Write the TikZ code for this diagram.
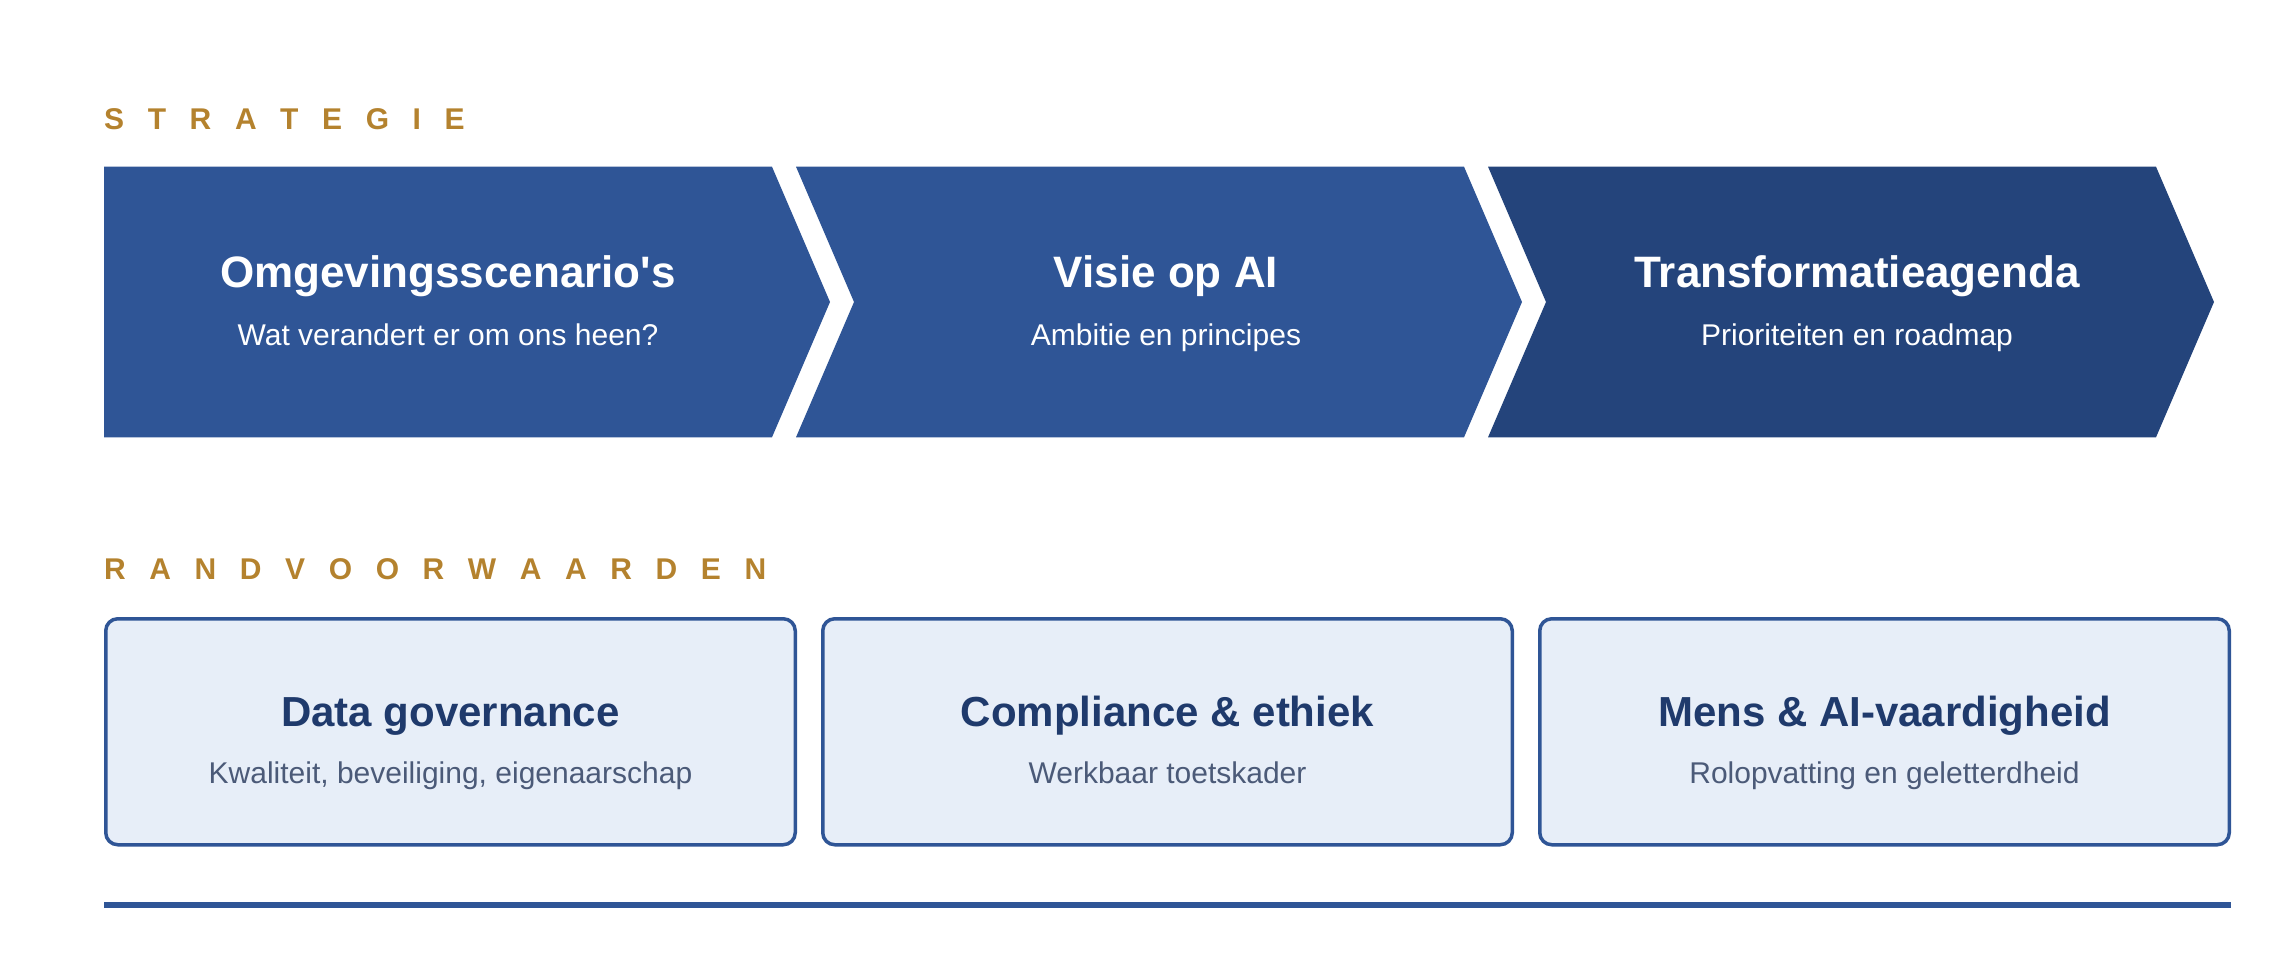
\documentclass[tikz,border=0pt]{standalone}
\usepackage{fontspec}
\setmainfont{Liberation Sans}
\definecolor{gold}{HTML}{B4822E}
\definecolor{chevA}{HTML}{2F5596}
\definecolor{chevB}{HTML}{24447B}
\definecolor{boxfill}{HTML}{E7EEF8}
\definecolor{boxline}{HTML}{2F5596}
\definecolor{navy}{HTML}{1F3A6C}
\definecolor{subgrey}{HTML}{4B5A78}
\newcommand\trk{\kern 23.6pt}
\begin{document}
\begin{tikzpicture}[x=1pt,y=-1pt,
  section/.style={anchor=base west, inner sep=0pt, text=gold, font=\bfseries\fontsize{30}{36}\selectfont},
  chevtitle/.style={anchor=base, inner sep=0pt, text=white, font=\bfseries\fontsize{44}{52}\selectfont},
  chevsub/.style={anchor=base, inner sep=0pt, text=white, font=\fontsize{30}{36}\selectfont},
  cardbox/.style={draw=boxline, fill=boxfill, line width=3.5pt, rounded corners=12pt,
    minimum width=689.5pt, minimum height=226pt, inner sep=0pt},
  cardtitle/.style={anchor=base, inner sep=0pt, text=navy, font=\bfseries\fontsize{42}{50}\selectfont},
  cardsub/.style={anchor=base, inner sep=0pt, text=subgrey, font=\fontsize{30}{36}\selectfont}]
\useasboundingbox (0,0) rectangle (2291,958);

% section labels
\node[section] (lblS) at (104,129) {S\trk T\trk R\trk A\trk T\trk E\trk G\trk I\trk E};
\node[section] (lblR) at (104,579) {R\trk A\trk N\trk D\trk V\trk O\trk O\trk R\trk W\trk A\trk A\trk R\trk D\trk E\trk N};

% chevrons
\fill[chevA] (104,166.7) -- (772,166.7) -- (830,302) -- (772,437.3) -- (104,437.3) -- cycle;
\fill[chevA] (796,166.7) -- (1464,166.7) -- (1522,302) -- (1464,437.3) -- (796,437.3) -- (854,302) -- cycle;
\fill[chevB] (1488,166.7) -- (2156,166.7) -- (2214,302) -- (2156,437.3) -- (1488,437.3) -- (1546,302) -- cycle;

\node[chevtitle] (c1t) at (448,287) {Omgevingsscenario\textquotesingle s};
\node[chevsub] (c1s) at (448,345) {Wat verandert er om ons heen?};
\node[chevtitle] (c2t) at (1166,287) {Visie op AI};
\node[chevsub] (c2s) at (1166,345) {Ambitie en principes};
\node[chevtitle] (c3t) at (1857,287) {Transformatieagenda};
\node[chevsub] (c3s) at (1857,345) {Prioriteiten en roadmap};

% cards
\node[cardbox] (b1) at (450.5,731.75) {};
\node[cardbox] (b2) at (1167.5,731.75) {};
\node[cardbox] (b3) at (1884.5,731.75) {};

\node[cardtitle] (b1t) at (450.5,726) {Data governance};
\node[cardsub] (b1s) at (450.5,783) {Kwaliteit, beveiliging, eigenaarschap};
\node[cardtitle] (b2t) at (1167.5,726) {Compliance \& ethiek};
\node[cardsub] (b2s) at (1167.5,783) {Werkbaar toetskader};
\node[cardtitle] (b3t) at (1884.5,726) {Mens \& AI-vaardigheid};
\node[cardsub] (b3s) at (1884.5,783) {Rolopvatting en geletterdheid};

% bottom rule
\coordinate (ruleL) at (104,905);
\coordinate (ruleR) at (2231,905);
\draw[boxline, line width=5.3pt] (ruleL) -- (ruleR);
\end{tikzpicture}
\end{document}
